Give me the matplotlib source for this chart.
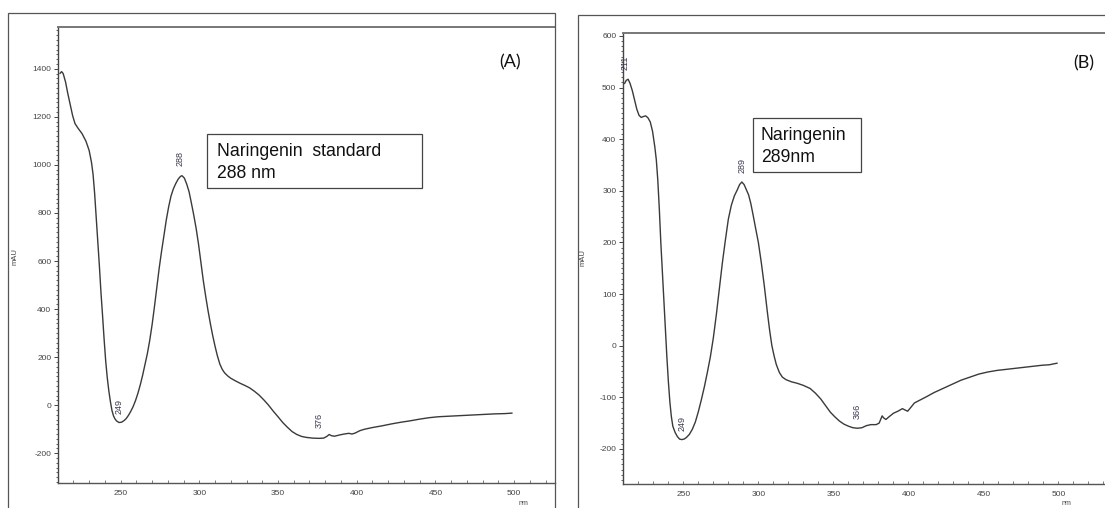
import matplotlib
matplotlib.use("Agg")
import matplotlib.pyplot as plt
from matplotlib.patches import Rectangle
from matplotlib.ticker import MultipleLocator

plt.rcParams["axes.unicode_minus"] = False

# -----------------------
# Data (wavelength nm, absorbance mAU)
# -----------------------
wl_a = [211.5, 212.5, 213.5, 215, 216.5, 218, 219.5, 221, 223, 225.5,
        228, 230, 231.5, 232.5, 233.5, 234.5, 235.5, 236.5, 237.5, 238.5,
        239.5, 240.5, 241.5, 242.5, 243.5, 244.5, 245.5, 246.5, 247.5, 249,
        250.5, 252, 253.5, 255, 256.5, 258, 259.5, 261, 262.5, 264,
        265.5, 267, 268.5, 270, 271.5, 273, 274.5, 276, 277.5, 279,
        280.5, 282, 283.5, 285, 286.5, 288, 289, 290.5, 292, 293.5,
        295, 296.5, 298, 299.5, 301, 302.5, 304, 305.5, 307, 308.5,
        310, 311.5, 313, 314.5, 316, 318, 320, 323, 326, 329,
        332, 335, 338, 341, 344, 347, 350, 353, 356, 359,
        362, 365, 368, 372, 376, 379, 381, 382.5, 384, 386,
        389, 392, 395, 397, 399, 402, 405, 410, 416, 422,
        428, 434, 440, 446, 452, 458, 464, 470, 476, 482,
        488, 494, 498.6]
mau_a = [1381, 1388, 1380, 1345, 1295, 1250, 1205, 1172, 1152, 1130,
         1098, 1060, 1010, 960, 880, 780, 680, 580, 470, 375,
         275, 185, 115, 60, 15, -22, -45, -58, -66, -72,
         -71, -65, -56, -42, -25, -5, 20, 50, 85, 125,
         170, 215, 270, 335, 410, 490, 570, 640, 705, 770,
         825, 870, 900, 922, 940, 952, 955, 945, 920, 888,
         840, 790, 735, 670, 595, 520, 455, 395, 340, 290,
         245, 205, 172, 150, 135, 122, 112, 101, 91, 82,
         72, 58, 42, 22, 0, -25, -48, -72, -92, -110,
         -122, -130, -134, -137, -138, -137, -130, -122, -127, -129,
         -124, -120, -117, -120, -116, -106, -100, -93, -86, -78,
         -71, -65, -58, -52, -48, -46, -44, -42, -40, -38,
         -36, -35, -33]

wl_b = [210.9, 212, 213.2, 214.5, 216, 217.5, 219, 220.5, 222, 223.5,
        225, 226.5, 228, 229.5, 231, 232, 233, 234, 235, 236,
        237, 238, 239, 240, 241, 242, 243, 244.5, 246, 247.5,
        249, 250.5, 252, 254, 256, 258, 260, 262, 264, 266,
        268, 270, 272, 274, 276, 278, 280, 282, 284, 286,
        287.5, 289, 290.5, 292, 293.5, 295, 296.5, 298, 300, 302,
        304, 306, 307.5, 309, 310.5, 312, 314, 316, 318.5, 322,
        326, 330, 334.5, 338, 341.5, 345, 348, 351, 354, 357,
        360, 363, 366, 369, 372, 375, 378.5, 380.5, 381.5, 382.5,
        383.5, 385, 387, 390, 393, 396, 398, 399.5, 401.5, 404,
        408, 412, 417, 423, 429, 435, 441, 447, 453, 459,
        465, 471, 477, 483, 489, 494, 499]
mau_b = [508, 514, 516, 508, 494, 476, 458, 446, 442, 444,
         445, 441, 433, 415, 385, 360, 320, 265, 200, 145,
         90, 35, -20, -68, -108, -137, -156, -168, -176, -181,
         -182, -181, -178, -172, -162, -148, -128, -105, -80, -52,
         -22, 15, 60, 110, 160, 204, 245, 272, 290, 302,
         312, 317, 312, 302, 292, 275, 253, 230, 200, 160,
         115, 65, 30, 0, -20, -37, -52, -61, -66, -70,
         -73, -77, -83, -92, -103, -117, -129, -138, -146, -152,
         -156, -159, -160, -159, -155, -153, -153, -150, -143, -136,
         -140, -143, -138, -131, -127, -122, -125, -127, -120, -111,
         -105, -99, -91, -83, -75, -67, -61, -55, -51, -48,
         -46, -44, -42, -40, -38, -37, -34]

# peak labels (wavelength, label y position)
peaks_a = [249, 288, 376]
peak_y_a = [-4, 1025, -63]
peaks_b = [211, 249, 289, 366]
peak_y_b = [547, -150, 349, -128]

W, H = 1105, 508
fig = plt.figure(figsize=(W / 100, H / 100), dpi=100)


def fx(px):
    return px / W


def fy(py):
    return 1 - py / H


def setup_axes(ax, xlim, ylim, ymajor, yminor):
    ax.set_xlim(*xlim)
    ax.set_ylim(*ylim)
    ax.xaxis.set_major_locator(MultipleLocator(50))
    ax.xaxis.set_minor_locator(MultipleLocator(10))
    ax.yaxis.set_major_locator(MultipleLocator(ymajor))
    ax.yaxis.set_minor_locator(MultipleLocator(yminor))
    ax.tick_params(axis="x", which="both", direction="in", length=2,
                   width=0.6, color="#666", labelsize=6, pad=5,
                   labelcolor="#444")
    ax.tick_params(axis="y", which="major", direction="out", length=3,
                   width=0.7, color="#444", labelsize=6, pad=2,
                   labelcolor="#444")
    ax.tick_params(axis="y", which="minor", direction="out", length=1.5,
                   width=0.6, color="#444")
    for lab in ax.get_xticklabels() + ax.get_yticklabels():
        lab.set_family("Liberation Sans")
    ax.spines["right"].set_visible(False)
    ax.spines["left"].set_linewidth(1.0)
    ax.spines["left"].set_color("#444")
    ax.spines["bottom"].set_linewidth(1.0)
    ax.spines["bottom"].set_color("#555")
    ax.spines["top"].set_linewidth(1.4)
    ax.spines["top"].set_color("#777")


# -----------------------
# Panel A
# -----------------------
ax1 = fig.add_axes([fx(58.3), fy(483.3), fx(555 - 58.3), (483.3 - 26.7) / H])
ax1.plot(wl_a, mau_a, color="#3a3a3a", lw=1.0)
setup_axes(ax1, (210.4, 526), (-325, 1575), 200, 20)
for wl, yy in zip(peaks_a, peak_y_a):
    ax1.text(wl, yy, str(wl), rotation=90, ha="center", va="center",
             fontsize=6.5, color="#3a3a50", family="Liberation Sans")

fig.add_artist(Rectangle((fx(8.3), -0.02), fx(555 - 8.3), fy(13.3) + 0.02,
                         transform=fig.transFigure, fill=False,
                         edgecolor="#555", lw=0.9))
fig.add_artist(Rectangle((fx(207.3), fy(188.3)), fx(422 - 207.3), (188.3 - 134) / H,
                         transform=fig.transFigure, fill=False,
                         edgecolor="#444", lw=0.9))
fig.text(fx(216.7), fy(156), "Naringenin  standard", fontsize=12.7,
         family="Liberation Sans", va="baseline", color="#111")
fig.text(fx(216.7), fy(178), "288 nm", fontsize=12.7,
         family="Liberation Sans", va="baseline", color="#111")
fig.text(fx(510), fy(62), "(A)", fontsize=13, family="Lato",
         ha="center", va="center", color="#111")
fig.text(fx(15), fy(257), "mAU", rotation=90, fontsize=5.5,
         family="Liberation Sans", ha="center", va="center", color="#444")
fig.text(fx(523), fy(507), "nm", fontsize=5, family="Liberation Sans",
         ha="center", va="bottom", color="#444")

# -----------------------
# Panel B
# -----------------------
ax2 = fig.add_axes([fx(623.3), fy(484), 1 - fx(623.3), (484 - 33.3) / H])
ax2.plot(wl_b, mau_b, color="#3a3a3a", lw=1.0)
setup_axes(ax2, (210, 531), (-268, 605), 100, 10)
for wl, yy in zip(peaks_b, peak_y_b):
    ax2.text(wl, yy, str(wl), rotation=90, ha="center", va="center",
             fontsize=6.5, color="#3a3a50", family="Liberation Sans")

fig.add_artist(Rectangle((fx(578.3), -0.02), 1.0, fy(15.3) + 0.02,
                         transform=fig.transFigure, fill=False,
                         edgecolor="#555", lw=0.9))
fig.add_artist(Rectangle((fx(753), fy(172)), fx(861 - 753), (172 - 118) / H,
                         transform=fig.transFigure, fill=False,
                         edgecolor="#444", lw=0.9))
fig.text(fx(761), fy(140), "Naringenin", fontsize=12.7,
         family="Liberation Sans", va="baseline", color="#111")
fig.text(fx(761), fy(162), "289nm", fontsize=12.7,
         family="Liberation Sans", va="baseline", color="#111")
fig.text(fx(1084), fy(63), "(B)", fontsize=13, family="Lato",
         ha="center", va="center", color="#111")
fig.text(fx(582.6), fy(258), "mAU", rotation=90, fontsize=5.5,
         family="Liberation Sans", ha="center", va="center", color="#444")
fig.text(fx(1066), fy(507), "nm", fontsize=5, family="Liberation Sans",
         ha="center", va="bottom", color="#444")

fig.savefig("out.png", dpi=100)
